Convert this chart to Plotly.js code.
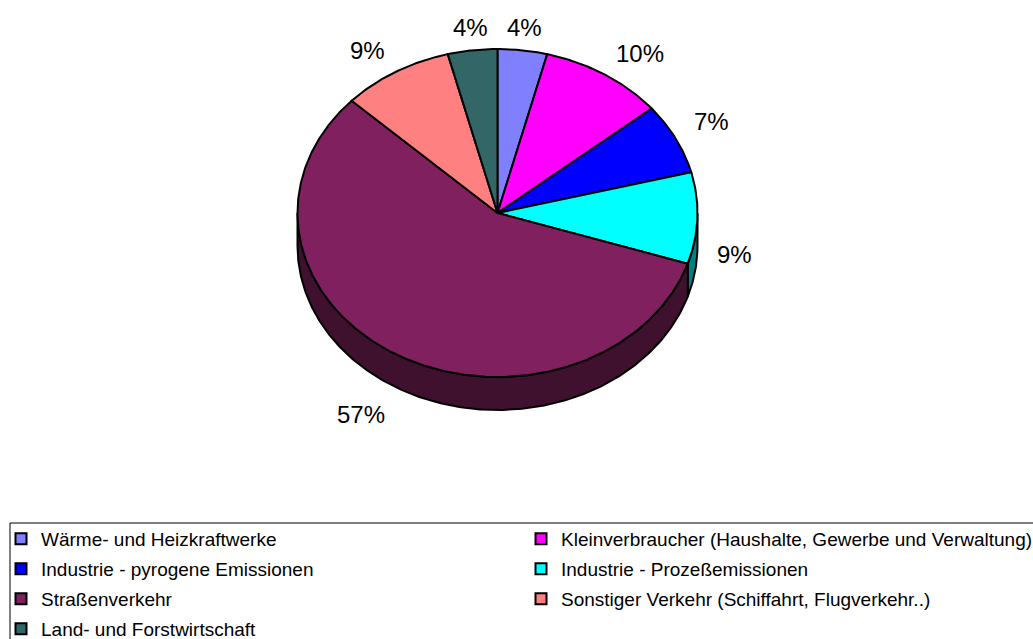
<!DOCTYPE html>
<html>
<head>
<meta charset="utf-8">
<script src="https://cdn.plot.ly/plotly-3.0.1.min.js"></script>
<style>html,body{margin:0;padding:0;background:#fff;}#chart{width:1033px;height:639px;}</style>
</head>
<body>
<div id="chart"></div>
<script>
// ---- data ----
const categories = [
  'Wärme- und Heizkraftwerke',
  'Kleinverbraucher (Haushalte, Gewerbe und Verwaltung)',
  'Industrie - pyrogene Emissionen',
  'Industrie - Prozeßemissionen',
  'Straßenverkehr',
  'Sonstiger Verkehr (Schiffahrt, Flugverkehr..)',
  'Land- und Forstwirtschaft'
];
const shares = [4, 10, 7, 9, 57, 9, 4];
const pctLabels = ['4%', '10%', '7%', '9%', '57%', '9%', '4%'];
const colors = ['#8080FF', '#FF00FF', '#0000FF', '#00FFFF', '#80205F', '#FF8080', '#336666'];
const sideColors = ['#404080', '#800080', '#000080', '#008080', '#40102F', '#804040', '#1A3333'];
const legendColumn = ['legend', 'legend2', 'legend', 'legend2', 'legend', 'legend2', 'legend'];

// ---- geometry (style) ----
const W = 1033, H = 639;
const CX = 497.5, CY = 213, RX = 200, RY = 164, DEPTH = 33;
const LBL_OFF_X = 18, LBL_OFF_Y = 10;
const deg = Math.PI / 180;

function pt(th, dy) {
  return [CX + RX * Math.sin(th * deg), CY - RY * Math.cos(th * deg) + (dy || 0)];
}
function arc(a, b, dy) {
  const n = Math.max(2, Math.ceil(Math.abs(b - a) / 0.5));
  const xs = [], ys = [];
  for (let k = 0; k <= n; k++) {
    const p = pt(a + (b - a) * k / n, dy);
    xs.push(p[0]); ys.push(p[1]);
  }
  return [xs, ys];
}

const total = shares.reduce((s, v) => s + v, 0);
const starts = [], ends = [];
let acc = 0;
shares.forEach(v => { starts.push(acc / total * 360); acc += v; ends.push(acc / total * 360); });

const sideTraces = [], topTraces = [], legendTraces = [];
const annotations = [];

shares.forEach((v, i) => {
  const t1 = starts[i], t2 = ends[i];
  // visible side wall (front half: 90..270 deg)
  const a = Math.max(t1, 90), b = Math.min(t2, 270);
  if (b > a) {
    const top = arc(a, b, 0), bot = arc(b, a, DEPTH);
    sideTraces.push({
      type: 'scatter', mode: 'lines', fill: 'toself',
      x: top[0].concat(bot[0]).concat([top[0][0]]),
      y: top[1].concat(bot[1]).concat([top[1][0]]),
      fillcolor: sideColors[i], line: {color: '#000', width: 2},
      hoverinfo: 'skip', showlegend: false
    });
  }
  // top face
  const ar = arc(t1, t2, 0);
  topTraces.push({
    type: 'scatter', mode: 'lines', fill: 'toself',
    x: [CX].concat(ar[0]).concat([CX]),
    y: [CY].concat(ar[1]).concat([CY]),
    fillcolor: colors[i], line: {color: '#000', width: 2},
    hoverinfo: 'skip', showlegend: false
  });
  // legend entry
  legendTraces.push({
    type: 'scatter', mode: 'markers', x: [null], y: [null],
    name: categories[i], legend: legendColumn[i], legendgroup: 'g' + i,
    marker: {symbol: 'square', size: 11, color: colors[i], line: {color: '#000', width: 2}},
    hoverinfo: 'skip'
  });
  // percentage label
  const mid = (t1 + t2) / 2;
  const s = Math.sin(mid * deg), c = Math.cos(mid * deg);
  const lx = CX + (RX + LBL_OFF_X) * s;
  const ly = CY - (RY + LBL_OFF_Y) * c + (c < 0 ? DEPTH : 0);
  annotations.push({
    x: lx, y: ly, xref: 'x', yref: 'y', text: pctLabels[i], showarrow: false,
    xanchor: s > 0.3 ? 'left' : (s < -0.3 ? 'right' : 'center'),
    yanchor: c > 0.3 ? 'bottom' : (c < -0.3 ? 'top' : 'middle'),
    yshift: -3,
    font: {size: 24, color: '#000', family: 'Liberation Sans, Arial, sans-serif'}
  });
});

const legendBase = {
  orientation: 'v', xanchor: 'left', yanchor: 'top',
  bgcolor: 'rgba(0,0,0,0)', borderwidth: 0, tracegroupgap: 2.3,
  font: {size: 19, color: '#000', family: 'Liberation Sans, Arial, sans-serif'}
};

const layout = {
  width: W, height: H,
  margin: {l: 0, r: 0, t: 0, b: 0, pad: 0, autoexpand: false},
  paper_bgcolor: '#fff', plot_bgcolor: '#fff',
  xaxis: {range: [0, W], visible: false, fixedrange: true},
  yaxis: {range: [H, 0], visible: false, fixedrange: true},
  showlegend: true,
  legend: Object.assign({}, legendBase, {x: 1 / W, y: 1 - 520 / H}),
  legend2: Object.assign({}, legendBase, {x: 521 / W, y: 1 - 520 / H}),
  annotations: annotations,
  shapes: [{
    type: 'rect', xref: 'paper', yref: 'paper',
    x0: 10 / W, x1: 1.02, y0: 1 - 523 / H, y1: -0.05,
    line: {color: '#000', width: 1}, fillcolor: 'rgba(0,0,0,0)'
  }]
};

Plotly.newPlot('chart', sideTraces.concat(topTraces).concat(legendTraces), layout,
  {displayModeBar: false, staticPlot: true});
</script>
</body>
</html>
